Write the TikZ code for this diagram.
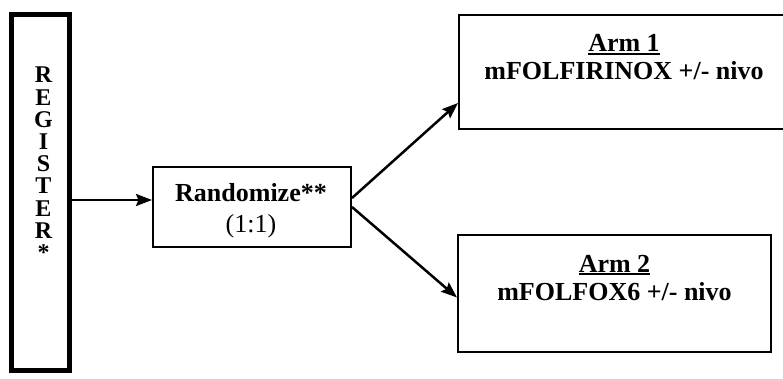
\documentclass[tikz,border=0pt]{standalone}
\usepackage{fontspec}
\setmainfont{Liberation Serif}
\usetikzlibrary{arrows.meta,calc}
% heavier underline for the arm titles
\newcommand{\armtitle}[1]{{\setbox0\hbox{#1}\rlap{\rule[-3pt]{\wd0}{2pt}}\box0}}

\begin{document}
\begin{tikzpicture}[x=1pt,y=-1pt,
  box/.style={draw,line width=2pt,inner sep=0pt},
  lbl/.style={font=\fontsize{26}{28}\selectfont\bfseries,anchor=base,inner sep=0pt},
  conn/.style={line width=2.5pt,-{Stealth[length=16pt,width=12pt,inset=2.5pt]}}]
\useasboundingbox (0,0) rectangle (783,379);
\fill[white] (0,0) rectangle (783,379);
\clip (0,0) rectangle (783,379);

% boxes
\node[box,line width=5pt,minimum width=58pt,minimum height=356pt] (reg) at (40.5,192.5) {};
\node[box,minimum width=198pt,minimum height=80pt] (rnd) at (252,207) {};
\node[box,minimum width=331pt,minimum height=114pt] (arm1) at (624.5,72) {};
\node[box,minimum width=313pt,minimum height=117pt] (arm2) at (614.5,293.5) {};

% register label, one letter per line
\node[font=\fontsize{24}{22.2}\selectfont\bfseries,align=center,anchor=north,inner sep=0pt] (regtxt) at (43.5,67) {R\\E\\G\\I\\S\\T\\E\\R\\*};

% labels
\node[lbl] (rndtxt) at (251,202) {Randomize**};
\node[lbl,font=\fontsize{26}{28}\selectfont] (ratio) at (251,232) {(1:1)};
\node[lbl] (arm1title) at (624,52) {\armtitle{Arm 1}};
\node[lbl] (arm1txt) at (624,80) {mFOLFIRINOX +/- nivo};
\node[lbl] (arm2title) at (614.5,272) {\armtitle{Arm 2}};
\node[lbl] (arm2txt) at (614.5,300) {mFOLFOX6 +/- nivo};

% connectors
\draw[conn] (reg.east |- 0,200) -- (rnd.west |- 0,200);
\draw[conn] ($(rnd.east)+(0,-9)$) -- ($(arm1.south west)+(0,-27)$);
\draw[conn] (rnd.east) -- ($(arm2.west)+(0,4)$);
\end{tikzpicture}
\end{document}
